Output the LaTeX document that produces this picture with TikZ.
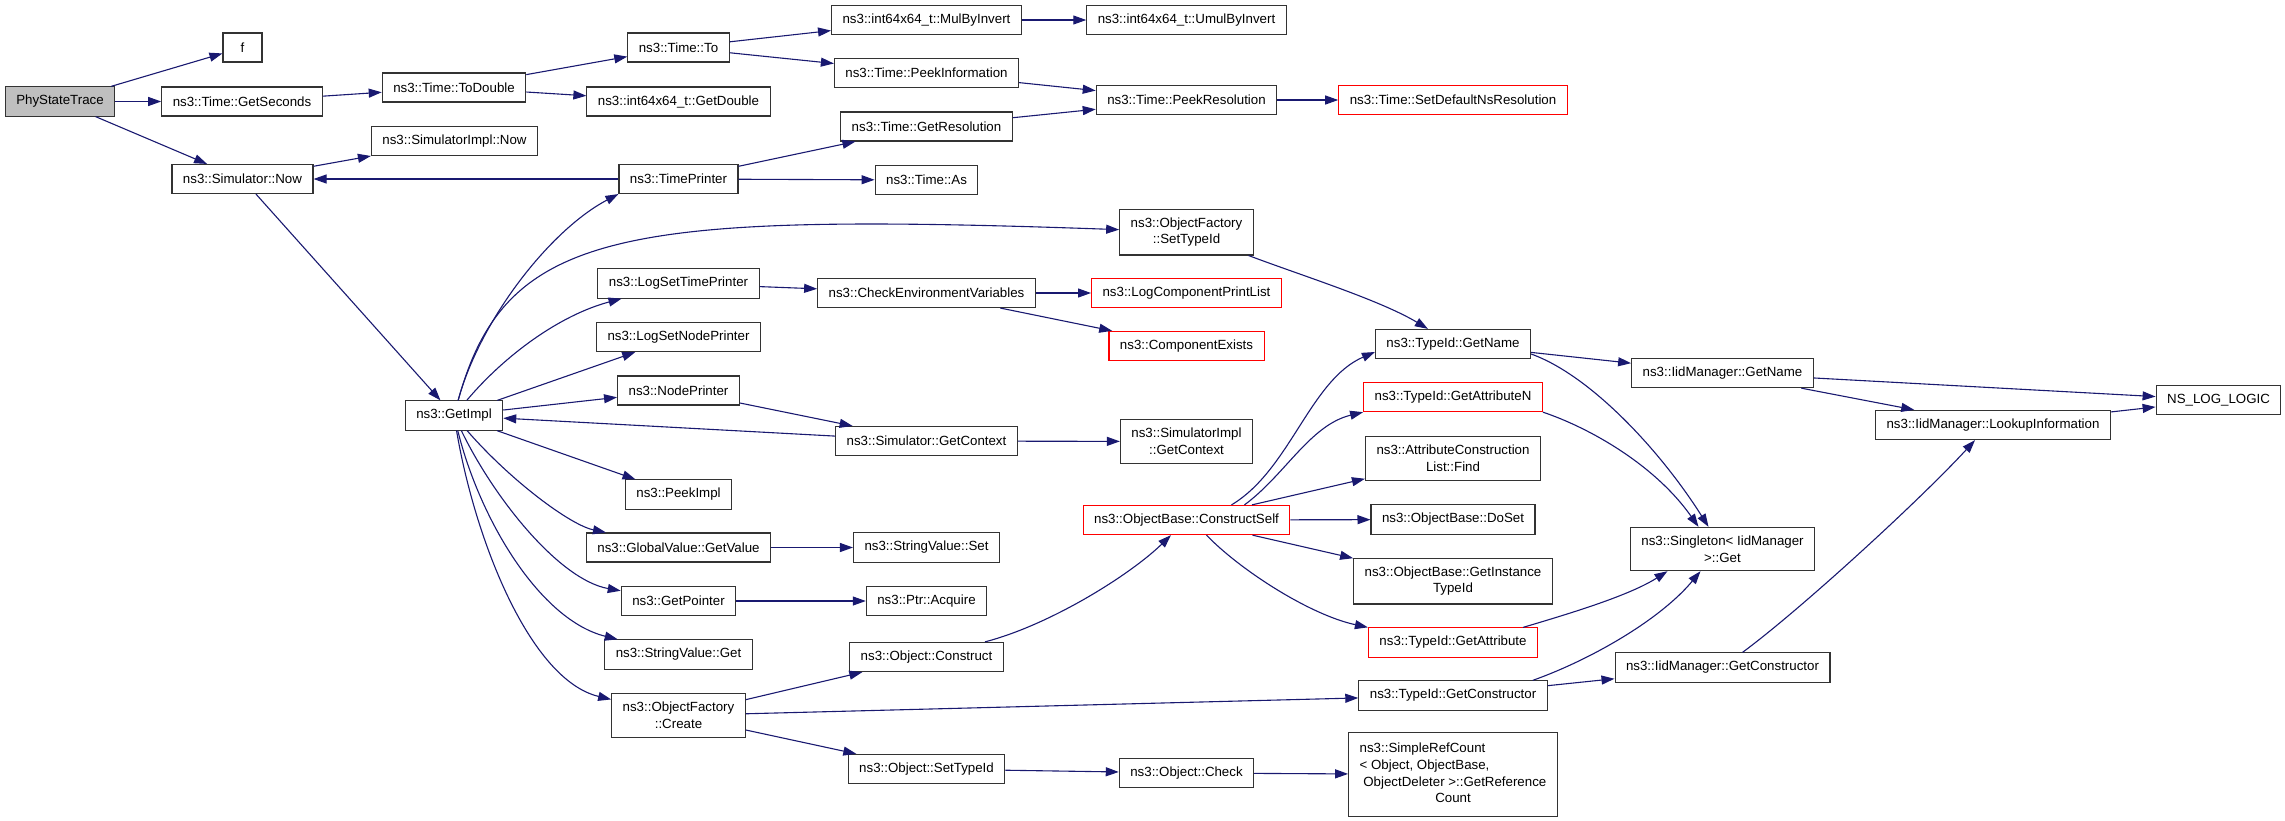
\documentclass[tikz,border=0pt]{standalone}
\usepackage{fontspec}
\setmainfont{Liberation Sans}
\usetikzlibrary{arrows.meta,calc}
\definecolor{edgeblue}{HTML}{191970}
\definecolor{rootgray}{HTML}{BFBFBF}
\tikzset{
  fn/.style={draw=black!80, line width=1.1pt, fill=white, font=\fontsize{13.3}{16.7}\selectfont,
    inner xsep=11pt, inner ysep=8.4pt, minimum height=29pt, minimum width=39pt, align=center},
  fnred/.style={fn, draw=red},
  fnroot/.style={fn, fill=rootgray},
  call/.style={draw=edgeblue, line width=1.1pt, -{Triangle[length=13pt,width=9pt]}}
}
\begin{document}
\begin{tikzpicture}[x=1pt,y=-1pt]
\useasboundingbox (0,0) rectangle (2285,820);
% columns of the call graph
\node[fnroot] (phy) at (60,101.5) {PhyStateTrace};
\node[fn] (f) at (242.5,47.5) {f};
\node[fn] (getsec) at (242,101.5) {ns3::Time::GetSeconds};
\node[fn] (simnow) at (242.5,179) {ns3::Simulator::Now};
\node[fn] (todouble) at (454,87.5) {ns3::Time::ToDouble};
\node[fn] (simimplnow) at (454.5,141) {ns3::SimulatorImpl::Now};
\node[fn] (getimpl) at (454,415.5) {ns3::GetImpl};
\node[fn] (timeto) at (678.5,47.5) {ns3::Time::To};
\node[fn] (getdouble) at (678.5,101.5) {ns3::int64x64\_t::GetDouble};
\node[fn] (timeprinter) at (678.5,179) {ns3::TimePrinter};
\node[fn] (logsettime) at (678.5,283.5) {ns3::LogSetTimePrinter};
\node[fn] (logsetnode) at (678.5,337) {ns3::LogSetNodePrinter};
\node[fn] (nodeprinter) at (678.5,390.5) {ns3::NodePrinter};
\node[fn] (peekimpl) at (678.5,494.5) {ns3::PeekImpl};
\node[fn] (gvgetvalue) at (678.5,547.5) {ns3::GlobalValue::GetValue};
\node[fn] (getpointer) at (678.5,601) {ns3::GetPointer};
\node[fn] (svget) at (678.5,654.5) {ns3::StringValue::Get};
\node[fn] (ofcreate) at (678.5,715.5) {ns3::ObjectFactory\\::Create};
\node[fn] (mulinv) at (926.5,20) {ns3::int64x64\_t::MulByInvert};
\node[fn] (peekinfo) at (926.5,73) {ns3::Time::PeekInformation};
\node[fn] (getres) at (926.5,126.5) {ns3::Time::GetResolution};
\node[fn] (timeas) at (926.5,180) {ns3::Time::As};
\node[fn] (checkenv) at (926.5,293) {ns3::CheckEnvironmentVariables};
\node[fn] (simgetctx) at (926.5,441) {ns3::Simulator::GetContext};
\node[fn] (svset) at (926.5,547.5) {ns3::StringValue::Set};
\node[fn] (ptracquire) at (926.5,601) {ns3::Ptr::Acquire};
\node[fn] (objconstruct) at (926.5,657) {ns3::Object::Construct};
\node[fn] (objsettypeid) at (926.5,769) {ns3::Object::SetTypeId};
\node[fn] (umulinv) at (1186.5,20) {ns3::int64x64\_t::UmulByInvert};
\node[fn] (peekres) at (1186.5,100) {ns3::Time::PeekResolution};
\node[fn] (ofsettypeid) at (1186.5,232) {ns3::ObjectFactory\\::SetTypeId};
\node[fnred] (logcomplist) at (1186.5,293) {ns3::LogComponentPrintList};
\node[fnred] (compexists) at (1186.5,346) {ns3::ComponentExists};
\node[fn] (simimplctx) at (1186.5,441.5) {ns3::SimulatorImpl\\::GetContext};
\node[fnred] (constructself) at (1186.5,520) {ns3::ObjectBase::ConstructSelf};
\node[fn] (objcheck) at (1186.5,773) {ns3::Object::Check};
\node[fnred] (setdefres) at (1453,100) {ns3::Time::SetDefaultNsResolution};
\node[fn] (tidgetname) at (1453,344) {ns3::TypeId::GetName};
\node[fnred] (tidattrn) at (1453,397) {ns3::TypeId::GetAttributeN};
\node[fn] (attrfind) at (1453,458.5) {ns3::AttributeConstruction\\List::Find};
\node[fn] (doset) at (1453,519.5) {ns3::ObjectBase::DoSet};
\node[fn] (instancetid) at (1453,581) {ns3::ObjectBase::GetInstance\\TypeId};
\node[fnred] (tidattr) at (1453,642.5) {ns3::TypeId::GetAttribute};
\node[fn] (tidctor) at (1453,695.5) {ns3::TypeId::GetConstructor};
\node[fn] (refcount) at (1453,774.5) {\begin{tabular}{@{}l@{}}ns3::SimpleRefCount\\
  < Object, ObjectBase,\\ \ ObjectDeleter >::GetReference\\
  \multicolumn{1}{@{}c@{}}{Count}\end{tabular}};
\node[fn] (iidgetname) at (1722.5,373) {ns3::IidManager::GetName};
\node[fn] (singleton) at (1722.5,549) {ns3::Singleton< IidManager\\>::Get};
\node[fn] (iidctor) at (1722.5,667.5) {ns3::IidManager::GetConstructor};
\node[fn] (lookup) at (1993,425) {ns3::IidManager::LookupInformation};
\node[fn] (nslog) at (2218.5,400) {NS\_LOG\_LOGIC};
% straight calls
\draw[call] (phy) -- (f);
\draw[call] (phy) -- (getsec);
\draw[call] (phy) -- (simnow);
\draw[call] (getsec) -- (todouble);
\draw[call] (todouble) -- (timeto);
\draw[call] (todouble) -- (getdouble);
\draw[call] (timeto) -- (mulinv);
\draw[call] (timeto) -- (peekinfo);
\draw[call] (mulinv) -- (umulinv);
\draw[call] (peekinfo) -- (peekres);
\draw[call] (getres) -- (peekres);
\draw[call] (peekres) -- (setdefres);
\draw[call] (simnow) -- (simimplnow);
\draw[call] (simnow) -- (getimpl);
\draw[call] (timeprinter) -- (simnow);
\draw[call] (timeprinter) -- (getres);
\draw[call] (timeprinter) -- (timeas);
\draw[call] (getimpl) -- (logsetnode);
\draw[call] (getimpl) -- (nodeprinter);
\draw[call] (getimpl) -- (peekimpl);
\draw[call] (simgetctx) -- (getimpl);
\draw[call] (nodeprinter) -- (simgetctx);
\draw[call] (logsettime) -- (checkenv);
\draw[call] (checkenv) -- (logcomplist);
\draw[call] (checkenv) -- (compexists);
\draw[call] (simgetctx) -- (simimplctx);
\draw[call] (gvgetvalue) -- (svset);
\draw[call] (getpointer) -- (ptracquire);
\draw[call] (ofcreate) -- (objconstruct);
\draw[call] (ofcreate) -- (tidctor);
\draw[call] (ofcreate) -- (objsettypeid);
\draw[call] (objsettypeid) -- (objcheck);
\draw[call] (objcheck) -- (refcount);
\draw[call] (constructself) -- (attrfind);
\draw[call] (constructself) -- (doset);
\draw[call] (constructself) -- (instancetid);
\draw[call] (tidgetname) -- (iidgetname);
\draw[call] (tidctor) -- (iidctor);
\draw[call] (iidgetname) -- (nslog);
\draw[call] (iidgetname) -- (lookup);
\draw[call] (lookup) -- (nslog);
% curved calls
\draw[call] (getimpl) .. controls (480,320) and (550,230) .. (timeprinter.south west);
\draw[call] (getimpl) .. controls (505,230) and (620,212) .. (ofsettypeid);
\draw[call] (getimpl) .. controls (505,355) and (560,315) .. (logsettime);
\draw[call] (getimpl) .. controls (510,480) and (570,525) .. (gvgetvalue);
\draw[call] (getimpl) .. controls (495,500) and (560,580) .. (getpointer);
\draw[call] (getimpl) .. controls (480,520) and (540,620) .. (svget);
\draw[call] (getimpl) .. controls (475,540) and (530,680) .. (ofcreate);
\draw[call] (ofsettypeid) .. controls (1300,275) and (1380,300) .. (tidgetname);
\draw[call] (objconstruct) .. controls (1050,625) and (1130,575) .. (constructself);
\draw[call] ($(constructself.north)+(45,0)$) .. controls (1290,470) and (1310,380) .. ($(tidgetname.west)+(0,8)$);
\draw[call] ($(constructself.north)+(58,0)$) .. controls (1285,475) and (1310,425) .. (tidattrn.south west);
\draw[call] ($(constructself.south)+(20,0)$) .. controls (1240,570) and (1310,615) .. (tidattr.north west);
\draw[call] ($(tidgetname.east)+(0,10)$) .. controls (1590,375) and (1660,450) .. ($(singleton.north)+(-14,0)$);
\draw[call] (tidattrn.south east) .. controls (1590,428) and (1655,465) .. ($(singleton.north)+(-24,0)$);
\draw[call] ($(tidattr.north east)+(-15,0)$) .. controls (1575,612) and (1630,595) .. ($(singleton.south)+(-55,0)$);
\draw[call] ($(tidctor.north east)+(-15,0)$) .. controls (1590,660) and (1660,620) .. ($(singleton.south)+(-22,0)$);
\draw[call] ($(iidctor.north)+(20,0)$) .. controls (1800,610) and (1920,500) .. ($(lookup.south)+(-18,0)$);
\end{tikzpicture}
\end{document}
